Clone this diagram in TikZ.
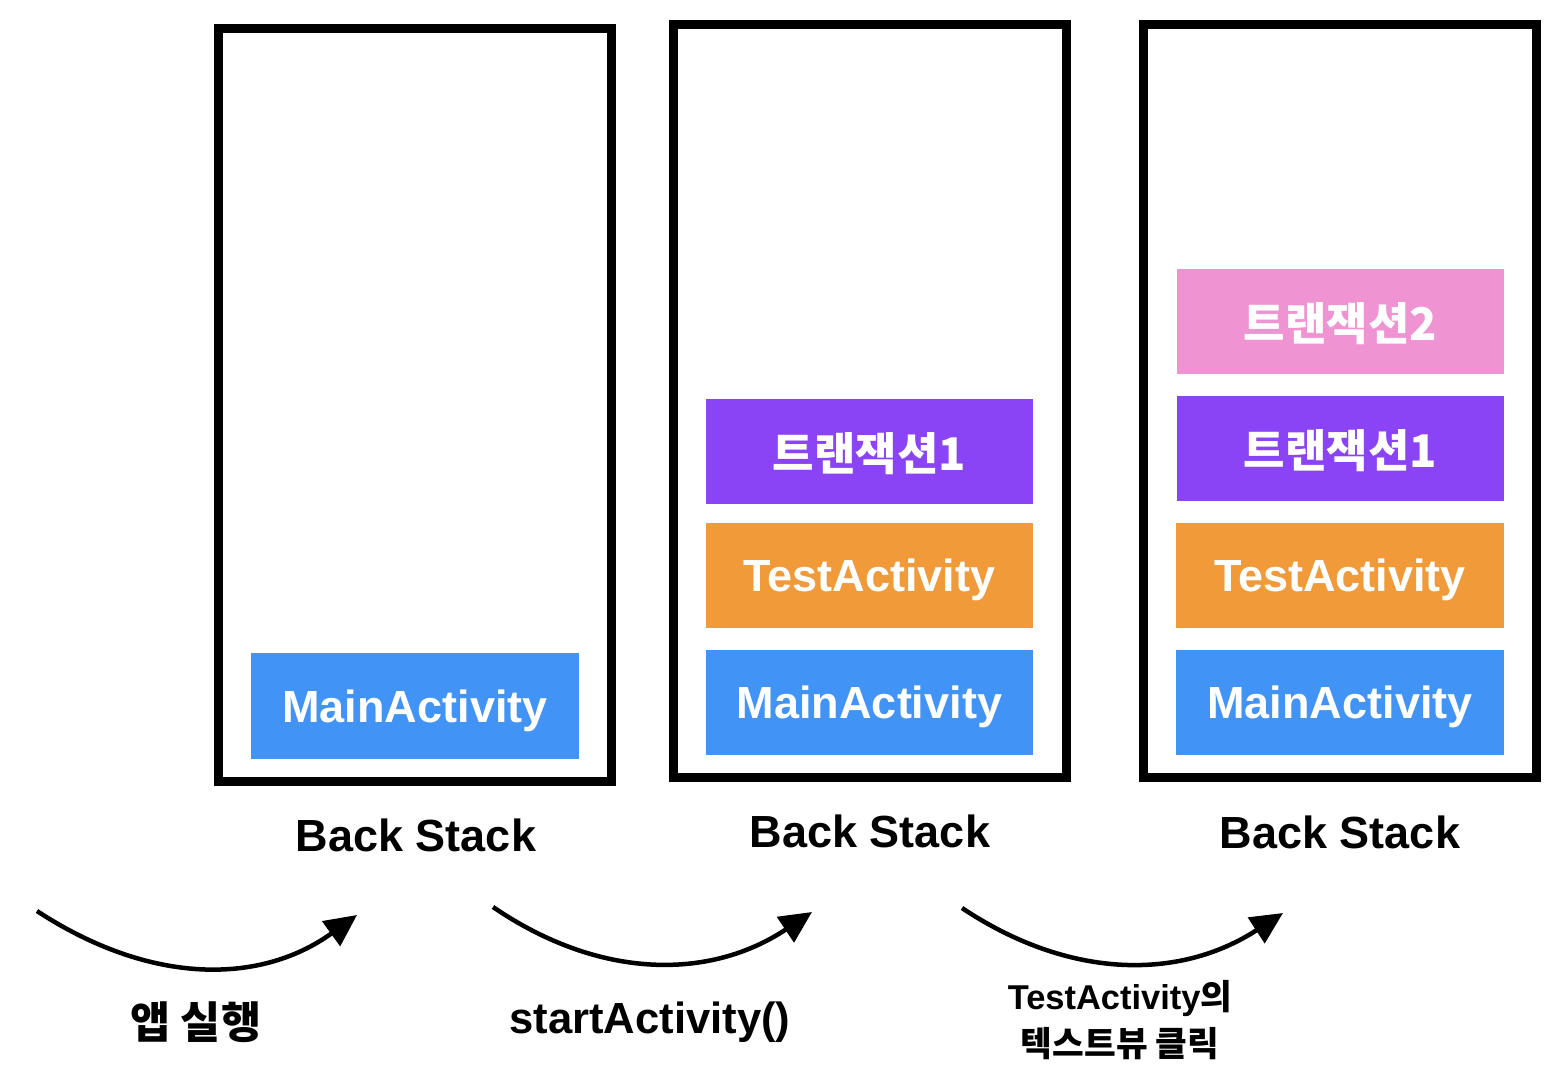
\documentclass[tikz,border=0pt]{standalone}
\usepackage{fontspec}
\setmainfont{Liberation Sans}
\newfontfamily\kr{Noto Sans CJK KR}
\usetikzlibrary{arrows.meta}

\definecolor{mainblue}{HTML}{4194F5}
\definecolor{testorange}{HTML}{F09A3A}
\definecolor{transpurple}{HTML}{8A44F5}
\definecolor{transpink}{HTML}{F093D3}

\tikzset{
    stackframe/.style={draw, line width=0.09cm, minimum width=3.92cm, minimum height=7.52cm},
    activity/.style={fill=#1, text=white, text depth=0pt, minimum width=3.27cm, minimum height=1.05cm, font=\fontsize{12.8}{14}\selectfont\bfseries},
    stacklabel/.style={font=\fontsize{12.8}{14}\selectfont\bfseries},
    steplabel/.style={font=\fontsize{12.4}{14}\selectfont\bfseries, align=center},
    flow/.style={line width=0.045cm, -{Triangle[length=0.32cm, width=0.3cm]}}
}

\begin{document}
\begin{tikzpicture}[x=0.01cm, y=-0.01cm]
                \useasboundingbox (0, 0) rectangle (1554, 1084);

                % stacks
                \node[stackframe] (stack1) at (415, 405) {};
                \node[stackframe] (stack2) at (870, 401) {};
                \node[stackframe] (stack3) at (1340, 401) {};

                \node[stacklabel] (label1) at (416, 835) {Back Stack};
                \node[stacklabel] (label2) at (870, 831) {Back Stack};
                \node[stacklabel] (label3) at (1340, 832) {Back Stack};

                % first stack
                \node[activity=mainblue] (main1) at (415, 706) {MainActivity};

                % second stack
                \node[activity=transpurple] (trans1a) at (869.5, 451.5) {\kr\bfseries 트랜잭션1};
                \node[activity=testorange] (test2) at (869.5, 575.5) {TestActivity};
                \node[activity=mainblue] (main2) at (869.5, 702.5) {MainActivity};

                % third stack
                \node[activity=transpink] (trans2) at (1340.5, 321.5) {\kr\bfseries 트랜잭션2};
                \node[activity=transpurple] (trans1b) at (1340.5, 448.5) {\kr\bfseries 트랜잭션1};
                \node[activity=testorange] (test3) at (1340, 575.5) {TestActivity};
                \node[activity=mainblue] (main3) at (1340, 702.5) {MainActivity};

                % steps
                \coordinate (from1) at (37, 911);
                \coordinate (to1) at (357, 915);
                \coordinate (from2) at (493, 907);
                \coordinate (to2) at (812, 912);
                \coordinate (from3) at (962, 908);
                \coordinate (to3) at (1283, 913);

                \draw[flow] (from1) .. controls (150, 985) and (260, 985) .. (to1);
                \draw[flow] (from2) .. controls (600, 980) and (710, 980) .. (to2);
                \draw[flow] (from3) .. controls (1070, 980) and (1180, 980) .. (to3);

                \node[steplabel] (step1) at (196, 1022) {\kr\bfseries 앱 실행};
                \node[steplabel] (step2) at (650, 1022) {startActivity()};
                \node[steplabel, font=\fontsize{9.8}{13.5}\selectfont\bfseries] (step3) at (1120, 1020) {TestActivity{\kr\bfseries 의}\\{\kr\bfseries 텍스트뷰 클릭}};
\end{tikzpicture}
\end{document}
